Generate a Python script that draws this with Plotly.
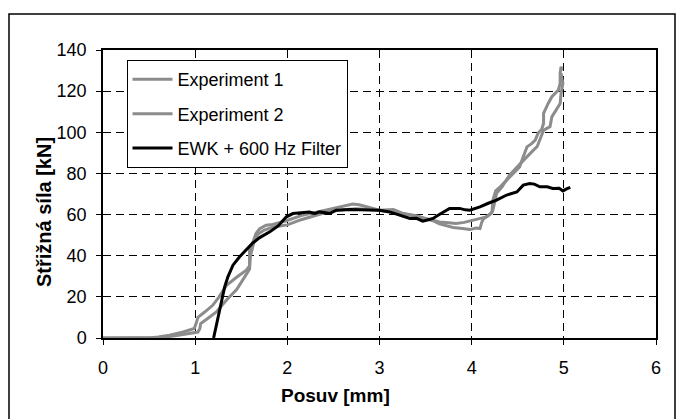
import plotly.graph_objects as go

# --- data ---
ewk_x = [1.20, 1.225, 1.247, 1.265, 1.283, 1.32, 1.355, 1.41, 1.48, 1.555, 1.62, 1.70, 1.81, 1.90, 1.99,
         2.06, 2.15, 2.24, 2.30, 2.35, 2.46, 2.53, 2.68, 2.85, 3.0, 3.11, 3.22, 3.33, 3.40, 3.47, 3.53,
         3.58, 3.64, 3.69, 3.76, 3.87, 3.93, 3.98, 4.04, 4.09, 4.18, 4.27, 4.38, 4.49, 4.56, 4.63, 4.68,
         4.74, 4.82, 4.88, 4.95, 4.99, 5.03, 5.07]
ewk_y = [0, 5, 10.2, 14, 18.3, 24.8, 29.7, 35.4, 39.4, 42.7, 46, 48.8, 51.6, 54.5, 58.9,
         60.5, 60.8, 61.2, 60.6, 61.3, 60.5, 62.1, 62.5, 62.4, 62.1, 61.3, 59.7, 58.1, 58.2, 56.8, 57.5,
         58.1, 59.8, 61.3, 63.0, 63.0, 62.3, 62.1, 63.0, 63.7, 65.5, 67, 69.5, 71, 74.3, 75.1, 74.8,
         73.5, 73.5, 72.7, 72.8, 71.5, 72.5, 73.2]

exp1_x = [0, 0.3, 0.5, 0.6, 0.72, 0.87, 0.99, 1.01, 1.03, 1.10, 1.19, 1.26, 1.34, 1.45, 1.555, 1.59,
          1.59, 1.63, 1.66, 1.70, 1.77, 1.84, 1.99, 2.15, 2.32, 2.45, 2.57, 2.65, 2.71, 2.78, 2.86,
          3.0, 3.15, 3.26, 3.4, 3.5, 3.58, 3.65, 3.72, 3.80, 3.90, 3.98, 4.05, 4.09, 4.11, 4.13, 4.18,
          4.22, 4.23, 4.26, 4.31, 4.38, 4.45, 4.52, 4.56, 4.60, 4.65, 4.69, 4.72, 4.76, 4.78, 4.78,
          4.83, 4.87, 4.94, 4.96, 4.96, 4.97, 4.98]
exp1_y = [0, 0, 0, 0.5, 1.3, 2.9, 4.6, 7, 10, 12.5, 15.9, 20, 25.6, 29.5, 33, 35,
          42.7, 47, 50.8, 53.2, 54.8, 55.2, 57, 59.5, 61.3, 62.5, 63.7, 64.5, 65.1, 64.8, 63.7,
          62.1, 62.5, 60.5, 59.5, 58, 57, 55.5, 54.8, 53.7, 53.2, 52.7, 53.5, 53.2, 56.4, 58, 59.5,
          61, 67, 71.5, 73.5, 76.7, 80, 83.2, 88.1, 92.9, 94.5, 96.2, 99.5, 101.5, 104.3, 109.2,
          114, 117.3, 120.5, 123.8, 128.7, 131.9, 130]

exp2_x = [0, 0.3, 0.5, 0.65, 0.8, 0.93, 1.03, 1.05, 1.06, 1.15, 1.23, 1.34, 1.45, 1.57, 1.59, 1.60,
          1.64, 1.68, 1.75, 1.85, 2.0, 2.15, 2.3, 2.45, 2.6, 2.75, 2.9, 3.05, 3.2, 3.35, 3.48, 3.56,
          3.65, 3.75, 3.83, 3.92, 4.01, 4.08, 4.16, 4.21, 4.23, 4.25, 4.27, 4.33, 4.41, 4.48, 4.56,
          4.62, 4.67, 4.71, 4.74, 4.78, 4.82, 4.85, 4.87, 4.92, 4.96, 4.97, 4.99, 4.98, 4.97]
exp2_y = [0, 0, 0, 0.3, 1.2, 2.2, 2.9, 4.5, 7, 10, 12.7, 18.5, 23.5, 32, 33.5, 40,
          47, 50.5, 52.5, 54, 55, 57.5, 59.5, 61.5, 62.3, 62.8, 62.5, 61.8, 61, 59.5, 58, 57.5,
          56.4, 56, 55.7, 56.2, 57.3, 58, 58.9, 60.5, 62.1, 66, 70.3, 73.5, 79.2, 82.5, 86.4,
          89, 91.3, 93, 96.2, 101, 102, 102.7, 107.5, 110.8, 114, 118.9, 123.8, 126, 128.7]

x_ticks = [0, 1, 2, 3, 4, 5, 6]
y_ticks = [0, 20, 40, 60, 80, 100, 120, 140]

GRAY = "#8c8c8c"
SANS = "Liberation Sans, Arial, sans-serif"

fig = go.Figure()
fig.add_trace(go.Scatter(x=exp1_x, y=exp1_y, mode="lines", name="Experiment 1",
                         line=dict(color=GRAY, width=3), legendgroup="a"))
fig.add_trace(go.Scatter(x=exp2_x, y=exp2_y, mode="lines", name="Experiment 2",
                         line=dict(color=GRAY, width=3), legendgroup="b"))
fig.add_trace(go.Scatter(x=ewk_x, y=ewk_y, mode="lines", name="EWK + 600 Hz Filter",
                         line=dict(color="black", width=3), legendgroup="c"))

axis_common = dict(
    showline=True, linecolor="black", linewidth=1.5, mirror=True,
    ticks="outside", ticklen=5, tickcolor="black", tickwidth=1,
    showgrid=True, gridcolor="black", gridwidth=1, griddash="8px,5px",
    zeroline=False, tickfont=dict(family=SANS, size=18, color="black"),
)

fig.update_xaxes(range=[0, 6], tickvals=x_ticks, ticktext=[str(v) for v in x_ticks],
                 ticklabelstandoff=8, **axis_common)
fig.update_yaxes(range=[0, 140], tickvals=y_ticks, ticktext=[str(v) for v in y_ticks],
                 ticklabelstandoff=6, **axis_common)

fig.update_layout(
    width=676, height=419,
    margin=dict(l=103, r=20, t=50, b=81),
    paper_bgcolor="white", plot_bgcolor="white",
    showlegend=True,
    legend=dict(x=0.0425, y=0.965, xanchor="left", yanchor="top",
                bgcolor="white", bordercolor="black", borderwidth=1,
                font=dict(family=SANS, size=18, color="black"),
                tracegroupgap=8, traceorder="grouped", itemwidth=40),
    annotations=[
        dict(text="<b>Posuv [mm]</b>", xref="paper", yref="paper",
             x=(335 - 103) / 553, y=-0.2, xanchor="center", yanchor="middle",
             showarrow=False, font=dict(family=SANS, size=19, color="black")),
        dict(text="<b>Střižná síla [kN]</b>", xref="paper", yref="paper",
             x=(44 - 103) / 553, y=(338 - 212) / 288, xanchor="center", yanchor="middle",
             textangle=-90, showarrow=False, font=dict(family=SANS, size=20, color="black")),
    ],
    shapes=[
        dict(type="rect", xref="paper", yref="paper",
             x0=(9 - 103) / 553, x1=(675 - 103) / 553, y0=-0.5, y1=(338 - 14) / 288,
             line=dict(color="black", width=1.5), layer="below"),
    ],
)

fig.write_html("out.html")
